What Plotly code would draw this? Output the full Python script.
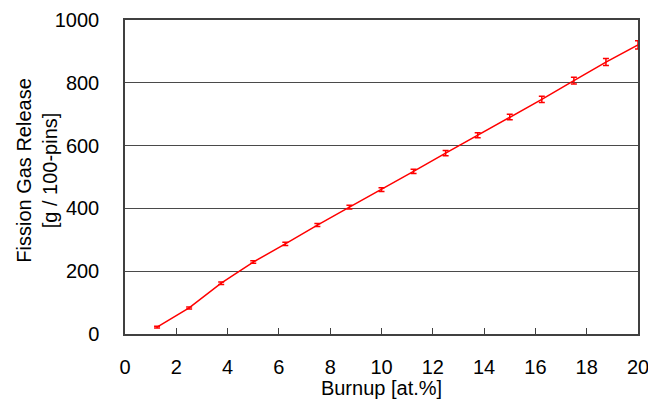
import plotly.graph_objects as go

burnup = [1.25, 2.5, 3.75, 5.0, 6.25, 7.5, 8.75, 10.0, 11.25, 12.5, 13.75, 15.0, 16.25, 17.5, 18.75, 20.0]
fgr = [22, 83, 162, 229, 287, 347, 404, 460, 518, 576, 633, 691, 747, 807, 866, 921]
err = [3, 3, 4, 4, 5, 5, 6, 6, 7, 8, 8, 9, 10, 11, 11, 13]

x_ticks = list(range(0, 21, 2))
y_ticks = list(range(0, 1001, 200))

fig = go.Figure()
fig.add_trace(go.Scatter(
    x=burnup, y=fgr, mode="lines",
    line=dict(color="#ff0000", width=1.5),
    error_y=dict(type="data", array=err, visible=True, color="#ff0000", thickness=1.5, width=3),
    showlegend=False,
))

font = dict(family="Liberation Sans, Arial, sans-serif", size=20, color="#000000")
fig.update_layout(
    width=648, height=399,
    margin=dict(l=124.5, r=10, t=20, b=65),
    paper_bgcolor="white", plot_bgcolor="white",
    font=font,
    xaxis=dict(
        range=[0, 20], tickvals=x_ticks, ticks="inside", ticklen=6, tickcolor="#404040",
        showline=True, linecolor="#404040", linewidth=1.5, mirror=True,
        showgrid=False, zeroline=False, ticklabelstandoff=14, automargin=False,
        ticklabeloverflow="allow",
        title=dict(text="Burnup [at.%]", standoff=5, font=font),
    ),
    yaxis=dict(
        range=[0, 1000], tickvals=y_ticks, ticks="",
        showline=True, linecolor="#404040", linewidth=1.5, mirror=True,
        showgrid=True, gridcolor="#4a4a4a", gridwidth=1, zeroline=False,
        ticklabelstandoff=20, automargin=False, ticklabeloverflow="allow",
    ),
    annotations=[dict(
        text="Fission Gas Release<br>[g / 100-pins]", textangle=-90,
        xref="paper", yref="paper", x=0, y=0.52, xanchor="center", yanchor="middle",
        xshift=-88, showarrow=False, font=font,
    )],
)
fig.write_html("out.html")
